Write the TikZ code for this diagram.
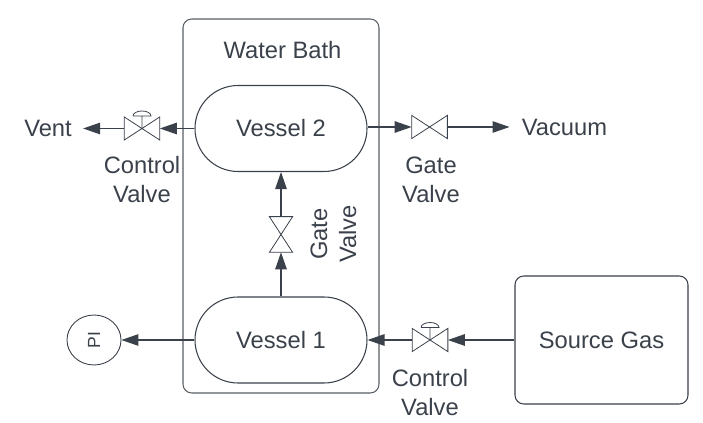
\documentclass[tikz,border=0pt]{standalone}
\usepackage{fontspec}
\setmainfont{Liberation Sans}
\usetikzlibrary{positioning,arrows.meta,shapes.misc,shapes.geometric}
\definecolor{ink}{RGB}{58,65,74}

\tikzset{
    txt/.style={text=ink, font=\fontsize{13.5}{16.5}\selectfont, align=center, inner sep=0pt},
    box/.style={txt, draw=ink, line width=0.6pt, rounded corners=5pt},
    vessel/.style={txt, draw=ink, line width=0.6pt, rounded rectangle, minimum width=3.44cm, minimum height=1.72cm},
    valve/.style={inner sep=0pt, minimum width=0.7cm, minimum height=0.45cm},
    bowtie/.style={draw=ink, line width=0.45pt, line join=miter},
    flow/.style={draw=ink, line width=0.65pt, -{Triangle[length=0.34cm,width=0.23cm]}}
}

\begin{document}
\begin{tikzpicture}
\useasboundingbox (0,0) rectangle (14.06,8.46);

% Water bath
\node[box, minimum width=3.92cm, minimum height=7.48cm, draw=ink!85] (bath) at (5.62,4.34) {};
\node[txt] (bathlabel) at (5.65,7.46) {Water Bath};

% Vessels
\node[vessel] (vessel2) at (5.62,5.89) {Vessel 2};
\node[vessel] (vessel1) at (5.62,1.66) {Vessel 1};

% Outside equipment
\node[box, minimum width=3.46cm, minimum height=2.56cm] (source) at (12.03,1.66) {Source Gas};
\node[ellipse, draw=ink, line width=0.5pt, inner sep=0pt, minimum width=1.08cm, minimum height=1cm,
      text=ink, font=\fontsize{10}{12}\selectfont] (pi) at (1.88,1.66) {\rotatebox{90}{PI}};
\node[txt, inner xsep=0.22cm] (vent) at (0.96,5.89) {Vent};
\node[txt, inner xsep=0.24cm] (vacuum) at (11.29,5.92) {Vacuum};

% Valves
\node[valve] (ventvalve) at (2.84,5.89) {};
\node[valve] (vacvalve) at (8.59,5.92) {};
\node[valve] (sourcevalve) at (8.6,1.66) {};
\node[valve, rotate=90] (linkvalve) at (5.62,3.77) {};
\foreach \v in {ventvalve,vacvalve,sourcevalve,linkvalve} {
    \draw[bowtie] (\v.north west) -- (\v.south east) -- (\v.north east) -- (\v.south west) -- cycle;
}
% Handles on the control valves
\foreach \v in {ventvalve,sourcevalve} {
    \draw[bowtie] (\v.center) -- ++(0,0.25) ++(-0.18,0) -- ++(0.36,0)
        arc[start angle=0, end angle=180, x radius=0.18, y radius=0.1];
}

% Flow lines
\draw[flow] (vessel2.west) -- (ventvalve.east);
\draw[flow] (ventvalve.west) -- (vent.east);
\draw[flow] (vessel2.east |- vacvalve.west) -- (vacvalve.west);
\draw[flow] (vacvalve.east) -- (vacuum.west);
\draw[flow] (vessel1.north) -- (linkvalve.west);
\draw[flow] (linkvalve.east) -- (vessel2.south);
\draw[flow] (vessel1.west) -- (pi.east);
\draw[flow] (source.west) -- (sourcevalve.east);
\draw[flow] (sourcevalve.west) -- (vessel1.east);

% Labels
\node[txt] (ventlabel) at (2.84,4.86) {Control\\Valve};
\node[txt] (vaclabel) at (8.62,4.86) {Gate\\Valve};
\node[txt] (sourcelabel) at (8.6,0.6) {Control\\Valve};
\node[txt, rotate=90] (linklabel) at (6.67,3.78) {Gate\\Valve};
\end{tikzpicture}
\end{document}
